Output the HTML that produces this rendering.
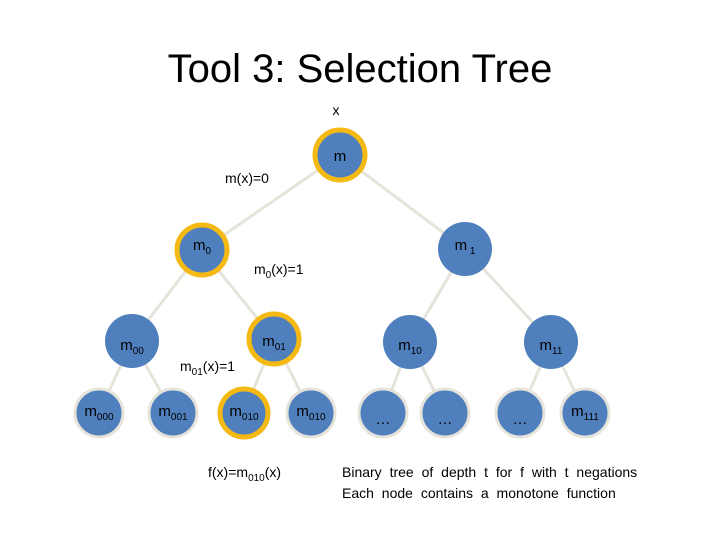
<!DOCTYPE html>
<html><head><meta charset="utf-8"><style>
html,body{margin:0;padding:0;background:#fff;}
svg{display:block;font-family:"Liberation Sans",sans-serif;}
</style></head><body>
<svg width="720" height="540" viewBox="0 0 720 540" xmlns="http://www.w3.org/2000/svg">
<text x="360" y="82" font-size="40" text-anchor="middle" fill="#000">Tool 3: Selection Tree</text>
<text x="336" y="115" font-size="14" text-anchor="middle">x</text>
<g stroke="#e6e4da" stroke-width="3" fill="none">
<line x1="340" y1="155" x2="202" y2="250"/>
<line x1="340" y1="155" x2="465" y2="249"/>
<line x1="202" y1="250" x2="132" y2="341"/>
<line x1="202" y1="250" x2="274" y2="339"/>
<line x1="465" y1="249" x2="410" y2="342"/>
<line x1="465" y1="249" x2="551" y2="342"/>
<line x1="132" y1="341" x2="99" y2="413"/>
<line x1="132" y1="341" x2="173" y2="413"/>
<line x1="274" y1="339" x2="244" y2="413"/>
<line x1="274" y1="339" x2="311" y2="413"/>
<line x1="410" y1="342" x2="383" y2="413"/>
<line x1="410" y1="342" x2="445" y2="413"/>
<line x1="551" y1="342" x2="520" y2="413"/>
<line x1="551" y1="342" x2="585" y2="413"/>
</g>
<g fill="#4f7fbd">
<circle cx="340" cy="155" r="25" stroke="#f5b914" stroke-width="5"/>
<circle cx="202" cy="250" r="25" stroke="#f5b914" stroke-width="5"/>
<circle cx="465" cy="249" r="27"/>
<circle cx="132" cy="341" r="27"/>
<circle cx="274" cy="339" r="25" stroke="#f5b914" stroke-width="5"/>
<circle cx="410" cy="342" r="27"/>
<circle cx="551" cy="342" r="27"/>
<g stroke="#e6e4da" stroke-width="3">
<circle cx="99" cy="413" r="24"/>
<circle cx="173" cy="413" r="24"/>
<circle cx="311" cy="413" r="24"/>
<circle cx="383" cy="413" r="24"/>
<circle cx="445" cy="413" r="24"/>
<circle cx="520" cy="413" r="24"/>
<circle cx="585" cy="413" r="24"/>
</g>
<circle cx="244" cy="413" r="24" stroke="#f5b914" stroke-width="5"/>
</g>
<g font-size="15" fill="#000">
<text x="340" y="161" text-anchor="middle">m</text>
<text x="202" y="250" text-anchor="middle">m<tspan font-size="10" dy="4">0</tspan></text>
<text x="465" y="250" text-anchor="middle">m<tspan font-size="10" dy="4"> 1</tspan></text>
<text x="132" y="350" text-anchor="middle">m<tspan font-size="10" dy="4">00</tspan></text>
<text x="274" y="346" text-anchor="middle">m<tspan font-size="10" dy="4">01</tspan></text>
<text x="410" y="350" text-anchor="middle">m<tspan font-size="10" dy="4">10</tspan></text>
<text x="551" y="350" text-anchor="middle">m<tspan font-size="10" dy="4">11</tspan></text>
<text x="99" y="416" text-anchor="middle">m<tspan font-size="10" dy="4">000</tspan></text>
<text x="173" y="416" text-anchor="middle">m<tspan font-size="10" dy="4">001</tspan></text>
<text x="244" y="416" text-anchor="middle">m<tspan font-size="10" dy="4">010</tspan></text>
<text x="311" y="416" text-anchor="middle">m<tspan font-size="10" dy="4">010</tspan></text>
<text x="585" y="416" text-anchor="middle">m<tspan font-size="10" dy="4">111</tspan></text>
<text x="383" y="424" text-anchor="middle">…</text>
<text x="445" y="424" text-anchor="middle">…</text>
<text x="520" y="424" text-anchor="middle">…</text>
</g>
<g font-size="14" fill="#000">
<text x="225" y="183">m(x)=0</text>
<text x="254" y="274">m<tspan font-size="10" dy="4">0</tspan><tspan dy="-4">(x)=1</tspan></text>
<text x="180" y="371">m<tspan font-size="10" dy="4">01</tspan><tspan dy="-4">(x)=1</tspan></text>
<text x="208" y="477">f(x)=m<tspan font-size="10" dy="4">010</tspan><tspan dy="-4">(x)</tspan></text>
<text x="342" y="477" word-spacing="4">Binary tree of depth t for f with t negations</text>
<text x="342" y="498" word-spacing="4">Each node contains a monotone function</text>
</g>
</svg>
</body></html>
